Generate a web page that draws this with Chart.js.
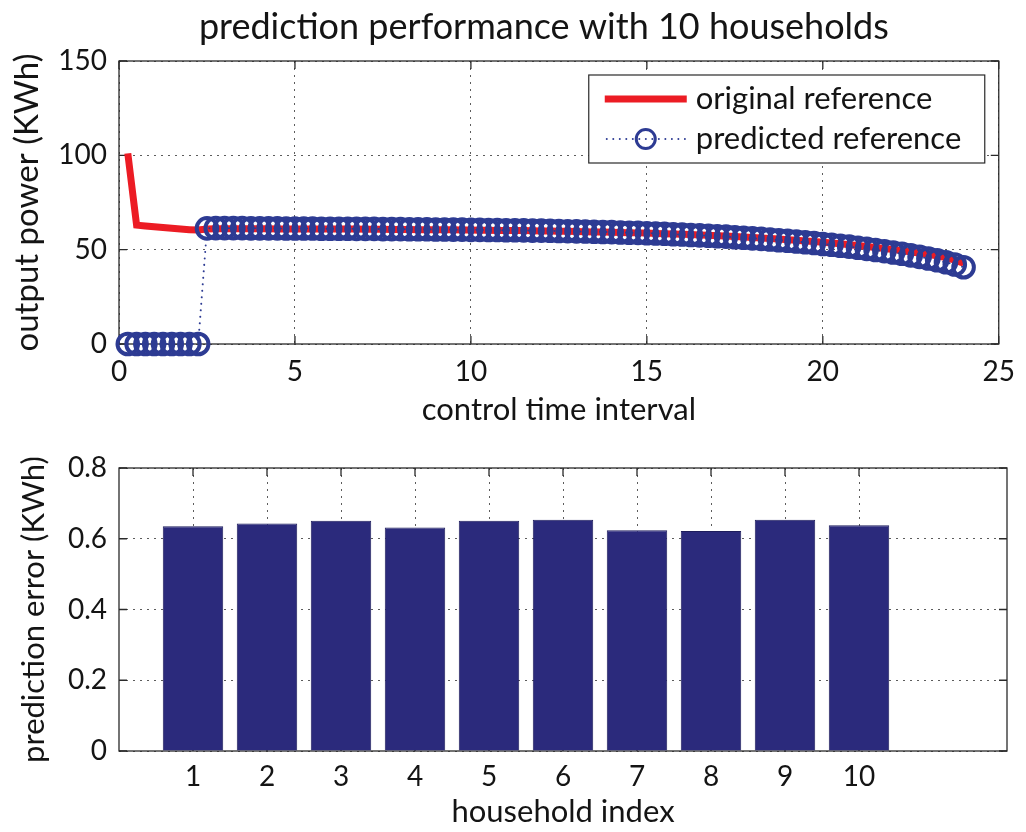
<!DOCTYPE html>
<html>
<head>
<meta charset="utf-8">
<title>prediction performance with 10 households</title>
<script src="https://cdn.jsdelivr.net/npm/chart.js@4.4.1/dist/chart.umd.min.js"></script>
<style>
  html, body { margin: 0; padding: 0; background: #fff; }
  #page { position: relative; width: 1026px; height: 832px; overflow: hidden; }
  #topChart, #bottomChart { position: absolute; left: 0; }
  #topChart { top: 0; }
  #bottomChart { top: 416px; }
</style>
</head>
<body>
<div id="page">
  <canvas id="bottomChart" width="1026" height="416"></canvas>
  <canvas id="topChart" width="1026" height="440"></canvas>
</div>
<script>
// ---- data: control time intervals (hours) ----
const times = [
  0.25, 0.5, 0.75, 1, 1.25, 1.5, 1.75, 2, 2.25, 2.5, 2.75, 3, 3.25, 3.5, 3.75, 4, 4.25, 4.5, 4.75, 5,
  5.25, 5.5, 5.75, 6, 6.25, 6.5, 6.75, 7, 7.25, 7.5, 7.75, 8, 8.25, 8.5, 8.75, 9, 9.25, 9.5, 9.75, 10,
  10.25, 10.5, 10.75, 11, 11.25, 11.5, 11.75, 12, 12.25, 12.5, 12.75, 13, 13.25, 13.5, 13.75, 14, 14.25, 14.5, 14.75, 15,
  15.25, 15.5, 15.75, 16, 16.25, 16.5, 16.75, 17, 17.25, 17.5, 17.75, 18, 18.25, 18.5, 18.75, 19, 19.25, 19.5, 19.75, 20,
  20.25, 20.5, 20.75, 21, 21.25, 21.5, 21.75, 22, 22.25, 22.5, 22.75, 23, 23.25, 23.5, 23.75, 24
];

// original reference output power (KWh)
const originalRef = [
  101, 63.0, 62.5, 62.1, 61.7, 61.3, 60.9, 60.6, 60.4,
  61.0, 61.1, 61.1, 61.1, 61.1, 61.1, 61.1, 61.1, 61.0, 61.0, 61.0,
  61.0, 61.0, 61.0, 60.9, 60.9, 60.9, 60.9, 60.8, 60.8, 60.8, 60.7, 60.7, 60.7, 60.6, 60.6, 60.6, 60.5, 60.5, 60.4, 60.4,
  60.3, 60.3, 60.2, 60.2, 60.1, 60.1, 60.0, 59.9, 59.9, 59.8, 59.7, 59.6, 59.5, 59.4, 59.3, 59.2, 59.1, 59.0, 58.9, 58.8,
  58.6, 58.5, 58.3, 58.2, 58.0, 57.8, 57.6, 57.4, 57.2, 57.0, 56.7, 56.5, 56.2, 55.9, 55.6, 55.3, 55.0, 54.6, 54.3, 53.9,
  53.5, 53.1, 52.6, 52.2, 51.7, 51.2, 50.6, 50.1, 49.5, 48.8, 48.2, 47.4, 46.7, 45.8, 44.4, 42.8
];

// predicted reference output power (KWh)
const predictedRef = [
  0, 0, 0, 0, 0, 0, 0, 0, 0,
  61.3, 61.4, 61.4, 61.4, 61.4, 61.3, 61.3, 61.3, 61.3, 61.2, 61.2,
  61.2, 61.2, 61.1, 61.1, 61.1, 61.1, 61.0, 61.0, 61.0, 60.9, 60.9, 60.9, 60.8, 60.8, 60.8, 60.7, 60.7, 60.6, 60.6, 60.5,
  60.5, 60.4, 60.4, 60.3, 60.3, 60.2, 60.1, 60.1, 60.0, 59.9, 59.8, 59.7, 59.6, 59.5, 59.4, 59.3, 59.1, 59.0, 58.9, 58.7,
  58.6, 58.4, 58.2, 58.0, 57.8, 57.6, 57.4, 57.1, 56.9, 56.6, 56.3, 56.0, 55.7, 55.4, 55.0, 54.7, 54.3, 53.9, 53.5, 53.0,
  52.6, 52.1, 51.6, 51.0, 50.4, 49.8, 49.2, 48.5, 47.8, 47.0, 46.2, 45.3, 44.4, 43.3, 42.1, 40.7
];

// ---- data: per-household prediction error (KWh) ----
const households = [1, 2, 3, 4, 5, 6, 7, 8, 9, 10];
const predictionError = [0.635, 0.643, 0.651, 0.632, 0.651, 0.654, 0.624, 0.622, 0.654, 0.638];

// ---- tick values and labels ----
const timeTicks = [0, 5, 10, 15, 20, 25];
const powerTicks = [0, 50, 100, 150];
const errorTicks = [0, 0.2, 0.4, 0.6, 0.8];
const errorTickLabels = ['0', '0.2', '0.4', '0.6', '0.8'];

const chartTitle = 'prediction performance with 10 households';

// ---- styling ----
const FONT = 'Lato, "Open Sans", sans-serif';
const INK = '#141414';
const GRID = '#5c5c5c';
const FRAME = '#2a2a2a';
const RED = '#ec1c24';
const BLUE = '#2d3b93';
const NAVY = '#2b2a7c';

const tickFont = { family: FONT, size: 28 };
const titleFont = { family: FONT, size: 31 };
const LEGEND_FONT_SIZE = 31;

// axes box with inward tick marks on all four sides
const framePlugin = {
  id: 'matFrame',
  beforeDatasetsDraw(chart) {
    const { ctx, chartArea: a, scales: { x, y } } = chart;
    const L = 8;
    ctx.save();
    ctx.strokeStyle = FRAME;
    ctx.lineWidth = 1.3;
    ctx.beginPath();
    x.ticks.forEach(t => {
      const p = x.getPixelForValue(t.value);
      ctx.moveTo(p, a.bottom); ctx.lineTo(p, a.bottom - L);
      ctx.moveTo(p, a.top); ctx.lineTo(p, a.top + L);
    });
    y.ticks.forEach(t => {
      const p = y.getPixelForValue(t.value);
      ctx.moveTo(a.left, p); ctx.lineTo(a.left + L, p);
      ctx.moveTo(a.right, p); ctx.lineTo(a.right - L, p);
    });
    ctx.stroke();
    ctx.strokeRect(a.left, a.top, a.right - a.left, a.bottom - a.top);
    ctx.restore();
  }
};

// figure title above the top axes
const headingPlugin = {
  id: 'matHeading',
  afterDraw(chart) {
    const { ctx, chartArea: a } = chart;
    ctx.save();
    ctx.fillStyle = INK;
    ctx.font = `36px ${FONT}`;
    ctx.textAlign = 'center';
    ctx.textBaseline = 'middle';
    ctx.fillText(chartTitle, (a.left + a.right) / 2 - 15, a.top - 34);
    ctx.restore();
  }
};

// boxed legend in the upper right corner of the top axes
const legendPlugin = {
  id: 'matLegend',
  afterDatasetsDraw(chart) {
    const { ctx, chartArea: a } = chart;
    const w = 396, h = 88;
    const bx = a.right - 410, by = a.top + 14;
    const ds = chart.data.datasets;
    ctx.save();
    ctx.fillStyle = '#fff';
    ctx.fillRect(bx, by, w, h);
    ctx.strokeStyle = FRAME;
    ctx.lineWidth = 1.2;
    ctx.strokeRect(bx, by, w, h);

    const x0 = bx + 16, x1 = bx + 98;
    const y0 = by + 24, y1 = by + 64;
    // red solid line sample
    ctx.strokeStyle = ds[0].borderColor;
    ctx.lineWidth = ds[0].borderWidth;
    ctx.beginPath(); ctx.moveTo(x0, y0); ctx.lineTo(x1, y0); ctx.stroke();
    // dotted line with circle marker
    ctx.strokeStyle = ds[1].borderColor;
    ctx.lineWidth = ds[1].borderWidth;
    ctx.lineCap = 'round';
    ctx.setLineDash(ds[1].borderDash);
    ctx.beginPath(); ctx.moveTo(x0 + 2, y1); ctx.lineTo(x1, y1); ctx.stroke();
    ctx.setLineDash([]);
    ctx.lineWidth = 3;
    ctx.strokeStyle = ds[1].pointBorderColor;
    ctx.beginPath(); ctx.arc((x0 + x1) / 2, y1, 9.5, 0, Math.PI * 2); ctx.stroke();

    ctx.fillStyle = INK;
    ctx.font = `${LEGEND_FONT_SIZE}px ${FONT}`;
    ctx.textBaseline = 'middle';
    ctx.textAlign = 'left';
    ctx.fillText(ds[0].label, bx + 107, y0);
    ctx.fillText(ds[1].label, bx + 107, y1);
    ctx.restore();
  }
};

const gridOpts = { color: GRID, lineWidth: 1, drawTicks: false };
const borderOpts = { display: false, dash: [2, 5] };

// ---- top: output power over the control horizon ----
new Chart(document.getElementById('topChart'), {
  type: 'line',
  data: {
    datasets: [
      {
        label: 'original reference',
        data: times.map((t, i) => ({ x: t, y: originalRef[i] })),
        borderColor: RED,
        borderWidth: 7,
        pointRadius: 0,
        tension: 0,
        clip: false,
        order: 2
      },
      {
        label: 'predicted reference',
        data: times.map((t, i) => ({ x: t, y: predictedRef[i] })),
        borderColor: BLUE,
        borderWidth: 2,
        borderDash: [0.01, 6.5],
        borderCapStyle: 'round',
        pointStyle: 'circle',
        pointRadius: 10.3,
        pointBorderWidth: 4,
        pointBorderColor: BLUE,
        pointBackgroundColor: 'rgba(0,0,0,0)',
        tension: 0,
        clip: false,
        order: 1
      }
    ]
  },
  options: {
    responsive: false,
    animation: false,
    events: [],
    layout: { padding: { left: 0, right: 19, top: 61, bottom: 0 } },
    plugins: {
      legend: { display: false },
      tooltip: { enabled: false },
      title: { display: false }
    },
    scales: {
      x: {
        type: 'linear',
        min: 0, max: 25,
        afterBuildTicks: s => { s.ticks = timeTicks.map(v => ({ value: v })); },
        afterFit: s => { s.height = 96; },
        grid: gridOpts,
        border: borderOpts,
        ticks: { color: INK, font: tickFont, padding: 11, maxRotation: 0, autoSkip: false },
        title: { display: true, text: 'control time interval', color: INK, font: titleFont, padding: { top: 0, bottom: 11 } }
      },
      y: {
        type: 'linear',
        min: 0, max: 150,
        afterBuildTicks: s => { s.ticks = powerTicks.map(v => ({ value: v })); },
        afterFit: s => { s.width = 119; },
        grid: gridOpts,
        border: borderOpts,
        ticks: { color: INK, font: tickFont, padding: 12, autoSkip: false },
        title: { display: true, text: 'output power (KWh)', color: INK, font: { family: FONT, size: 33 }, padding: { top: 8, bottom: 0 } }
      }
    }
  },
  plugins: [framePlugin, legendPlugin, headingPlugin]
});

// ---- bottom: prediction error per household ----
new Chart(document.getElementById('bottomChart'), {
  type: 'bar',
  data: {
    datasets: [{
      label: 'prediction error',
      data: households.map((h, i) => ({ x: h, y: predictionError[i] })),
      backgroundColor: NAVY,
      borderColor: '#1e1d5c',
      borderWidth: 1,
      categoryPercentage: 1,
      barPercentage: 0.817
    }]
  },
  options: {
    responsive: false,
    animation: false,
    events: [],
    layout: { padding: { left: 0, right: 19, top: 52, bottom: 0 } },
    plugins: { legend: { display: false }, tooltip: { enabled: false } },
    scales: {
      x: {
        type: 'linear',
        min: 0, max: 12,
        offset: false,
        afterBuildTicks: s => { s.ticks = households.map(v => ({ value: v })); },
        afterFit: s => { s.height = 81; },
        grid: Object.assign({ offset: false }, gridOpts),
        border: borderOpts,
        ticks: { color: INK, font: tickFont, padding: 9, maxRotation: 0, autoSkip: false, callback: v => String(v) },
        title: { display: true, text: 'household index', color: INK, font: titleFont, padding: { top: 0, bottom: 1 } }
      },
      y: {
        type: 'linear',
        min: 0, max: 0.8,
        afterBuildTicks: s => { s.ticks = errorTicks.map(v => ({ value: v })); },
        afterFit: s => { s.width = 119; },
        grid: gridOpts,
        border: borderOpts,
        ticks: { color: INK, font: tickFont, padding: 12, autoSkip: false, callback: (v, i) => errorTickLabels[i] },
        title: { display: true, text: 'prediction error (KWh)', color: INK, font: titleFont, padding: { top: 15, bottom: 0 } }
      }
    }
  },
  plugins: [framePlugin]
});
</script>
</body>
</html>
